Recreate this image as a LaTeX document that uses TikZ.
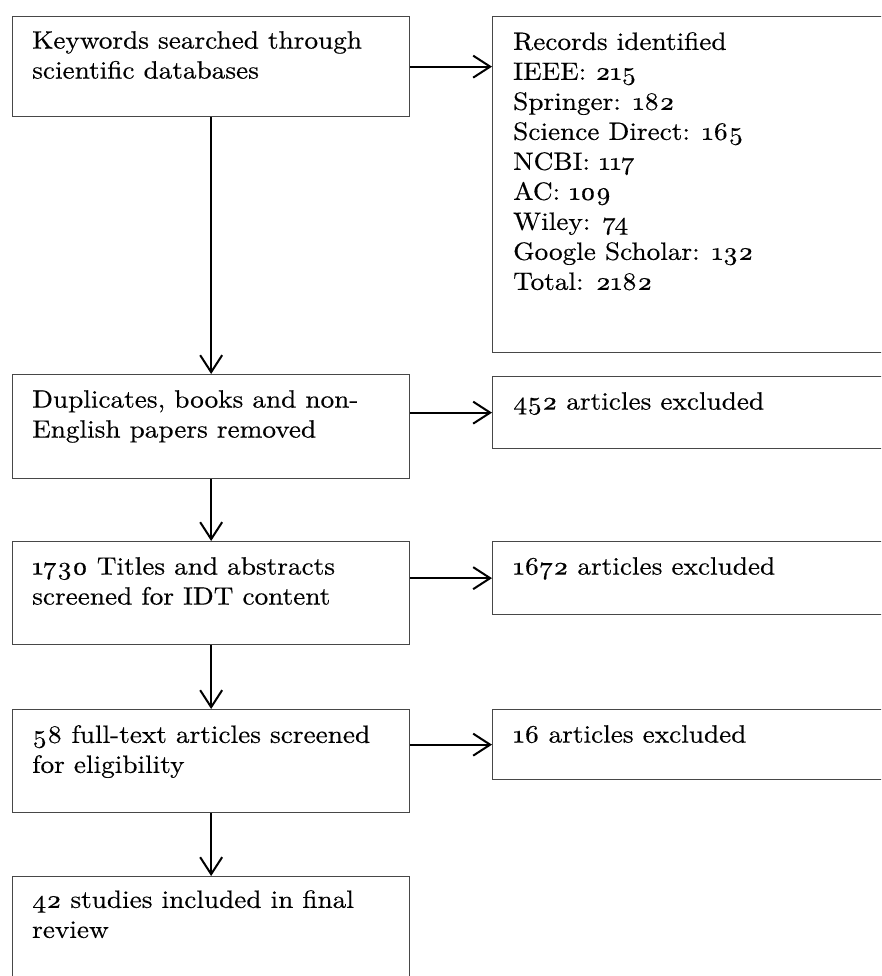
\documentclass[tikz,border=0pt]{standalone}
\usepackage{fontspec}
\setmainfont{lmroman10-regular.otf}[Numbers=OldStyle, FakeStretch=1.09, FakeBold=0.4]
\usetikzlibrary{arrows.meta}
\begin{document}
\begin{tikzpicture}
	[x=1pt, y=-1pt,
	frame/.style={draw=black!72, line width=1.3pt, rectangle, anchor=north west, inner sep=0pt},
	txt/.style={anchor=north west, align=left, inner sep=0pt, font=\fontsize{25}{30}\selectfont},
	>={Straight Barb[length=17pt, width=22pt]},
	flow/.style={->, line width=2pt}]
	\useasboundingbox (0,0) rectangle (881,976);
	\clip (0,0) rectangle (881,976);
	
	% left column
	\node[frame, minimum width=397pt, minimum height=100pt] (kw) at (12,16) {};
	\node[frame, minimum width=397pt, minimum height=104pt] (dup) at (12,374) {};
	\node[frame, minimum width=397pt, minimum height=103pt] (scr) at (12,541) {};
	\node[frame, minimum width=397pt, minimum height=103pt] (full) at (12,709) {};
	\node[frame, minimum width=397pt, minimum height=103pt] (inc) at (12,876) {};
	
	% right column, cut at the page edge
	\node[frame, minimum width=408pt, minimum height=336pt] (rec) at (492,16) {};
	\node[frame, minimum width=408pt, minimum height=72pt] (dupex) at (492,376) {};
	\node[frame, minimum width=408pt, minimum height=73pt] (screx) at (492,541) {};
	\node[frame, minimum width=408pt, minimum height=70pt] (fullex) at (492,709) {};
	
	\node[txt] (kwt) at ([shift={(20,15)}]kw.north west) {Keywords searched through\\scientific databases};
	\node[txt] (dupt) at ([shift={(20,16)}]dup.north west) {Duplicates, books and non-\\English papers removed};
	\node[txt] (scrt) at ([shift={(20,16)}]scr.north west) {1730 Titles and abstracts\\screened for IDT content};
	\node[txt] (fullt) at ([shift={(20,16)}]full.north west) {58 full-text articles screened\\for eligibility};
	\node[txt] (inct) at ([shift={(20,14)}]inc.north west) {42 studies included in final\\review};
	
	\node[txt] (rect) at ([shift={(21,16)}]rec.north west) {Records identified\\IEEE: 215\\Springer: 182\\Science Direct: 165\\NCBI: 117\\AC: 109\\Wiley: 74\\Google Scholar: 132\\Total: 2182};
	\node[txt] (dupext) at ([shift={(21,16)}]dupex.north west) {452 articles excluded};
	\node[txt] (scrext) at ([shift={(21,16)}]screx.north west) {1672 articles excluded};
	\node[txt] (fullext) at ([shift={(21,16)}]fullex.north west) {16 articles excluded};
	
	\draw[flow] (kw) -- (dup);
	\draw[flow] (dup) -- (scr);
	\draw[flow] (scr) -- (full);
	\draw[flow] (full) -- (inc);
	
	\draw[flow] (kw.east) -- (kw.east -| rec.west);
	\draw[flow] (dup.east |- dupex.west) -- (dupex.west);
	\draw[flow] (scr.east |- screx.west) -- (screx.west);
	\draw[flow] (full.east |- fullex.west) -- (fullex.west);
\end{tikzpicture}
\end{document}
